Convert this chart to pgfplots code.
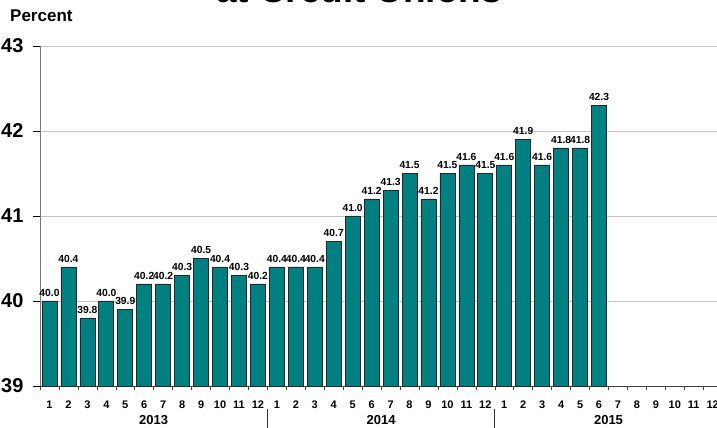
\documentclass[border=0pt]{standalone}
\usepackage{fontspec}
\setmainfont{Liberation Sans}
\usepackage{pgfplots}
\pgfplotsset{compat=1.18}
\definecolor{barteal}{RGB}{0,128,128}
\definecolor{gridgray}{RGB}{196,196,196}
\definecolor{axisgray}{RGB}{120,120,120}

\begin{document}
\begin{tikzpicture}
\useasboundingbox (-40pt,-42pt) rectangle (677pt,386pt);
\begin{axis}[
  scale only axis,
  x=18.95pt, y=85pt,
  xmin=0.5, xmax=36.5,
  ymin=39, ymax=43,
  axis x line*=bottom,
  axis y line*=left,
  x axis line style={black!75, line width=0.8pt},
  y axis line style={axisgray, line width=0.8pt},
  /pgf/number format/assume math mode=true,
  tick align=outside,
  ytick={39,40,41,42,43},
  major tick length=7pt,
  ytick style={black, line width=0.6pt},
  yticklabel style={font=\bfseries\fontsize{20}{20}\selectfont, xshift=-6pt},
  ymajorgrids,
  grid style={gridgray, line width=0.8pt},
  xtick={1,...,36},
  xticklabels={1,2,3,4,5,6,7,8,9,10,11,12,1,2,3,4,5,6,7,8,9,10,11,12,1,2,3,4,5,6,7,8,9,10,11,12},
  major x tick style={draw=none},
  xticklabel style={font=\bfseries\fontsize{11}{11}\selectfont, yshift=-4pt},
  minor xtick={0.5,1.5,...,36.5},
  minor tick length=4pt,
  minor x tick style={black!75, line width=0.6pt},
  ybar,
  bar width=15pt,
  nodes near coords={\pgfmathprintnumber[fixed,fixed zerofill,precision=1]{\pgfplotspointmeta}},
  every node near coord/.append style={font=\bfseries\fontsize{10.3}{10.3}\selectfont, black, yshift=1pt},
  clip=false,
]
\addplot[fill=barteal, draw=black!85, line width=0.7pt] coordinates {
  (1,40.0) (2,40.4) (3,39.8) (4,40.0) (5,39.9) (6,40.2)
  (7,40.2) (8,40.3) (9,40.5) (10,40.4) (11,40.3) (12,40.2)
  (13,40.4) (14,40.4) (15,40.4) (16,40.7) (17,41.0) (18,41.2)
  (19,41.3) (20,41.5) (21,41.2) (22,41.5) (23,41.6) (24,41.5)
  (25,41.6) (26,41.9) (27,41.6) (28,41.8) (29,41.8) (30,42.3)
};
% year captions and separators under the month ticks
\node[font=\bfseries\fontsize{13}{13}\selectfont] at (axis cs:6.5,39) [yshift=-34pt] {2013};
\node[font=\bfseries\fontsize{13}{13}\selectfont] at (axis cs:18.5,39) [yshift=-34pt] {2014};
\node[font=\bfseries\fontsize{13}{13}\selectfont] at (axis cs:30.5,39) [yshift=-34pt] {2015};
\draw[black!80, line width=0.7pt] (axis cs:12.5,39) ++(0pt,-23pt) -- ++(0pt,-20pt);
\draw[black!80, line width=0.7pt] (axis cs:24.5,39) ++(0pt,-23pt) -- ++(0pt,-20pt);
% unit label and title
\node[anchor=north west, inner sep=0pt, font=\bfseries\fontsize{17}{17}\selectfont]
  at (rel axis cs:0,1) [xshift=-30pt, yshift=36pt] {Percent};
\node[anchor=base, inner sep=0pt, font=\bfseries\fontsize{37}{37}\selectfont]
  at (rel axis cs:0,1) [xshift=319pt, yshift=43pt] {at Credit Unions};
\end{axis}
\end{tikzpicture}
\end{document}
